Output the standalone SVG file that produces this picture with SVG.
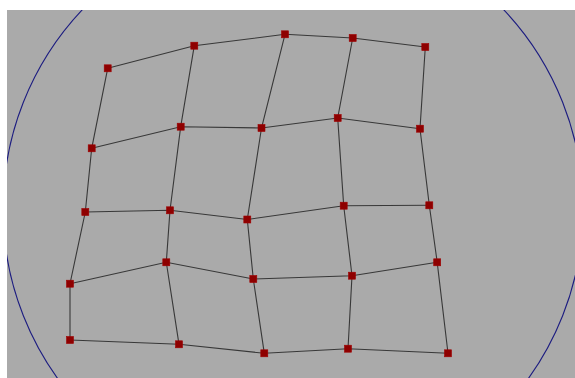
<svg xmlns="http://www.w3.org/2000/svg" width="575" height="378" viewBox="0 0 575 378">
<style>
.e{stroke:#383838;stroke-width:1.1;fill:none}
.n{fill:#8e0000;stroke:#a00000;stroke-width:0.6}
</style>
<defs>
<rect id="sq" x="-3.5" y="-3.5" width="7" height="7"/>
<clipPath id="area"><rect x="7" y="10" width="568" height="368"/></clipPath>
</defs>
<rect x="0" y="0" width="575" height="378" fill="#ffffff"/>
<rect x="7" y="10" width="568" height="368" fill="#aaaaaa"/>
<circle cx="293" cy="209" r="290" fill="none" stroke="#1c1c80" stroke-width="1.1" clip-path="url(#area)"/>
<g id="connectors">
<polyline class="e" points="107.7,68.3 194.3,45.7 285,34.3 352.7,38 425.3,47"/>
<polyline class="e" points="91.7,148.3 180.7,126.7 261.5,128 337.7,118 420,128.7"/>
<polyline class="e" points="85.3,212 170,210.3 247.3,219.5 343.7,205.7 429.3,205.3"/>
<polyline class="e" points="70,283.7 166.3,262.3 253.3,279 352,275.7 437.2,262.3"/>
<polyline class="e" points="70,340 179,344.3 264.3,353.3 348,348.7 448,353.3"/>
<polyline class="e" points="107.7,68.3 91.7,148.3 85.3,212 70,283.7 70,340"/>
<polyline class="e" points="194.3,45.7 180.7,126.7 170,210.3 166.3,262.3 179,344.3"/>
<polyline class="e" points="285,34.3 261.5,128 247.3,219.5 253.3,279 264.3,353.3"/>
<polyline class="e" points="352.7,38 337.7,118 343.7,205.7 352,275.7 348,348.7"/>
<polyline class="e" points="425.3,47 420,128.7 429.3,205.3 437.2,262.3 448,353.3"/>
</g>
<g id="n11"><use href="#sq" class="n" x="107.7" y="68.3"/></g>
<g id="n12"><use href="#sq" class="n" x="194.3" y="45.7"/></g>
<g id="n13"><use href="#sq" class="n" x="285" y="34.3"/></g>
<g id="n14"><use href="#sq" class="n" x="352.7" y="38"/></g>
<g id="n15"><use href="#sq" class="n" x="425.3" y="47"/></g>
<g id="n21"><use href="#sq" class="n" x="91.7" y="148.3"/></g>
<g id="n22"><use href="#sq" class="n" x="180.7" y="126.7"/></g>
<g id="n23"><use href="#sq" class="n" x="261.5" y="128"/></g>
<g id="n24"><use href="#sq" class="n" x="337.7" y="118"/></g>
<g id="n25"><use href="#sq" class="n" x="420" y="128.7"/></g>
<g id="n31"><use href="#sq" class="n" x="85.3" y="212"/></g>
<g id="n32"><use href="#sq" class="n" x="170" y="210.3"/></g>
<g id="n33"><use href="#sq" class="n" x="247.3" y="219.5"/></g>
<g id="n34"><use href="#sq" class="n" x="343.7" y="205.7"/></g>
<g id="n35"><use href="#sq" class="n" x="429.3" y="205.3"/></g>
<g id="n41"><use href="#sq" class="n" x="70" y="283.7"/></g>
<g id="n42"><use href="#sq" class="n" x="166.3" y="262.3"/></g>
<g id="n43"><use href="#sq" class="n" x="253.3" y="279"/></g>
<g id="n44"><use href="#sq" class="n" x="352" y="275.7"/></g>
<g id="n45"><use href="#sq" class="n" x="437.2" y="262.3"/></g>
<g id="n51"><use href="#sq" class="n" x="70" y="340"/></g>
<g id="n52"><use href="#sq" class="n" x="179" y="344.3"/></g>
<g id="n53"><use href="#sq" class="n" x="264.3" y="353.3"/></g>
<g id="n54"><use href="#sq" class="n" x="348" y="348.7"/></g>
<g id="n55"><use href="#sq" class="n" x="448" y="353.3"/></g>
</svg>
